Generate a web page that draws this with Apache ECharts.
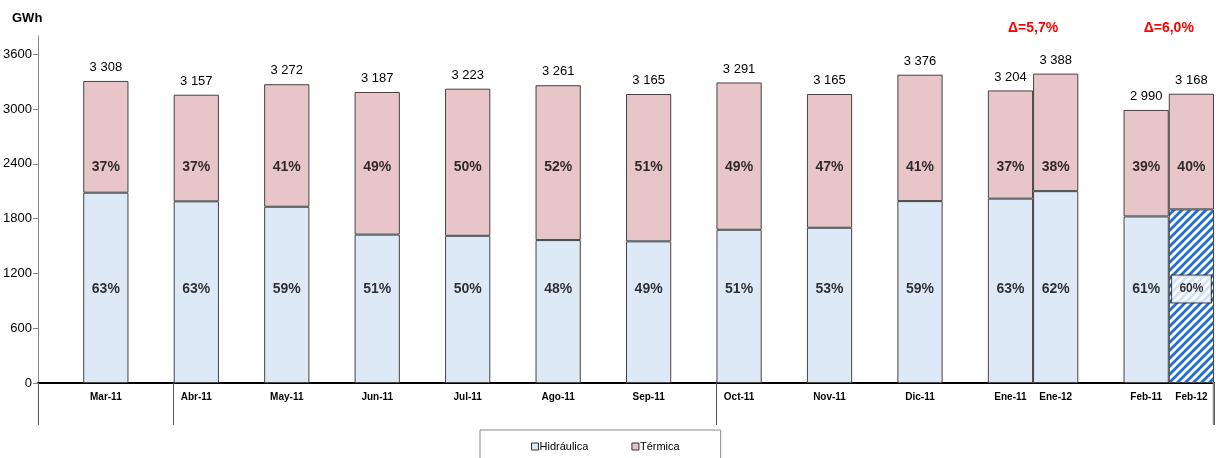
<!DOCTYPE html>
<html>
<head>
<meta charset="utf-8">
<script src="https://cdn.jsdelivr.net/npm/echarts@6/dist/echarts.min.js"></script>
<style>
  html, body { margin: 0; padding: 0; background: #fff; }
  #chart { width: 1216px; height: 458px; }
</style>
</head>
<body>
<div id="chart"></div>
<script>
// ---- data ----
const categories = ['', 'Mar-11', '', 'Abr-11', '', 'May-11', '', 'Jun-11', '', 'Jul-11', '', 'Ago-11', '', 'Sep-11', '', 'Oct-11', '', 'Nov-11', '', 'Dic-11', '', 'Ene-11', 'Ene-12', '', 'Feb-11', 'Feb-12'];
const months = ['Mar-11', 'Abr-11', 'May-11', 'Jun-11', 'Jul-11', 'Ago-11', 'Sep-11', 'Oct-11', 'Nov-11', 'Dic-11', 'Ene-11', 'Ene-12', 'Feb-11', 'Feb-12'];
const totals = [3308, 3157, 3272, 3187, 3223, 3261, 3165, 3291, 3165, 3376, 3204, 3388, 2990, 3168];
const hydro = [2084, 1989, 1930, 1625, 1612, 1565, 1551, 1678, 1700, 1992, 2019, 2101, 1824, 1901];
const thermal = [1224, 1168, 1342, 1562, 1611, 1696, 1614, 1613, 1465, 1384, 1185, 1287, 1166, 1267];
const hydroPct = ['63%', '63%', '59%', '51%', '50%', '48%', '49%', '51%', '53%', '59%', '63%', '62%', '61%', '60%'];
const thermalPct = ['37%', '37%', '41%', '49%', '50%', '52%', '51%', '49%', '47%', '41%', '37%', '38%', '39%', '40%'];
const yTicks = [0, 600, 1200, 1800, 2400, 3000, 3600];
const dividerCategories = ['', 'Abr-11', 'Oct-11'];   // group dividers below the axis (first '' = start)
const deltaPairs = [['Ene-11', 'Ene-12'], ['Feb-11', 'Feb-12']];
const deltaTexts = ['Δ=5,7%', 'Δ=6,0%'];
const projectedMonth = 'Feb-12';
const seriesNames = ['Hidráulica', 'Térmica'];

// ---- styling ----
const FONT = '"Liberation Sans", Arial, sans-serif';
const HYDRO = '#dde9f6';
const THERM = '#e7c5c8';
const EDGE = '#444444';

function stripePattern() {
  const c = document.createElement('canvas');
  c.width = 8; c.height = 8;
  const g = c.getContext('2d');
  g.fillStyle = '#ffffff';
  g.fillRect(0, 0, 8, 8);
  g.strokeStyle = '#1f6fd3';
  g.lineWidth = 2.8;
  g.beginPath();
  g.moveTo(-2, 10); g.lineTo(10, -2);
  g.moveTo(-6, 6); g.lineTo(6, -6);
  g.moveTo(2, 14); g.lineTo(14, 2);
  g.stroke();
  return { image: c, repeat: 'repeat' };
}

const fmt = n => String(n).replace(/\B(?=(\d{3})+(?!\d))/g, ' ');
const idx = m => categories.indexOf(m);
const dividerIdx = dividerCategories.map(idx);

const chart = echarts.init(document.getElementById('chart'), null, { renderer: 'canvas' });

const HYDRO_LABEL_Y = 1030;
const THERM_LABEL_Y = 2360;
const TICK_LEN = 42;

const option = {
  animation: false,
  backgroundColor: '#fff',
  title: {
    text: 'GWh', left: 12, top: 12, padding: 0,
    textStyle: { fontFamily: FONT, fontWeight: 'bold', fontSize: 13, color: '#000' }
  },
  grid: { left: 38, right: 2, top: 36, bottom: 75, outerBoundsMode: 'none', containLabel: false },
  legend: {
    data: seriesNames,
    left: 480, top: 430,
    padding: [11, 41, 14, 51],
    borderColor: '#8a8a8a', borderWidth: 1,
    itemWidth: 7, itemHeight: 7, itemGap: 43,
    icon: 'rect',
    itemStyle: { borderColor: '#333', borderWidth: 1 },
    textStyle: { fontFamily: FONT, fontSize: 11, color: '#000', padding: [0, 0, 0, -4] }
  },
  xAxis: {
    type: 'category',
    data: categories,
    boundaryGap: true,
    axisLine: { lineStyle: { color: '#000', width: 2 } },
    axisTick: {
      show: true,
      interval: (i) => dividerIdx.indexOf(i) >= 0,
      length: TICK_LEN,
      lineStyle: { color: '#555', width: 1 }
    },
    axisLabel: {
      interval: 0, margin: 9,
      fontFamily: FONT, fontWeight: 'bold', fontSize: 10, color: '#000'
    },
    splitLine: { show: false }
  },
  yAxis: {
    type: 'value',
    min: 0, max: 3800, interval: 600,
    axisLine: { show: true, lineStyle: { color: '#888', width: 1 } },
    axisTick: { show: true, length: 5, lineStyle: { color: '#888' }, customValues: yTicks },
    axisLabel: { customValues: yTicks, margin: 6, fontFamily: FONT, fontSize: 13, color: '#000', formatter: v => String(v) },
    splitLine: { show: false }
  },
  series: [
    {
      name: seriesNames[0],
      type: 'bar', stack: 'total',
      barWidth: '100%', barCategoryGap: '0%',
      itemStyle: { color: HYDRO, borderColor: EDGE, borderWidth: 1 },
      data: months.map((m, i) => {
        const d = { value: [idx(m), hydro[i]] };
        if (m === projectedMonth) d.itemStyle = { color: stripePattern(), borderColor: EDGE, borderWidth: 1 };
        return d;
      })
    },
    {
      name: seriesNames[1],
      type: 'bar', stack: 'total',
      barWidth: '100%', barCategoryGap: '0%',
      itemStyle: { color: THERM, borderColor: EDGE, borderWidth: 1 },
      label: {
        show: true, position: 'top', distance: 7,
        fontFamily: FONT, fontSize: 13, color: '#000',
        formatter: p => fmt(totals[p.dataIndex])
      },
      data: months.map((m, i) => ({ value: [idx(m), thermal[i]] }))
    },
    {
      name: 'hydroPctLabels',
      type: 'scatter', symbolSize: 0, silent: true, z: 5,
      label: {
        show: true, position: 'inside',
        fontFamily: FONT, fontWeight: 'bold', fontSize: 14, color: '#000',
        formatter: p => hydroPct[p.dataIndex]
      },
      data: months.map((m, i) => {
        const d = { value: [idx(m), HYDRO_LABEL_Y] };
        if (m === projectedMonth) {
          d.label = {
            fontSize: 12, backgroundColor: '#fff', borderColor: '#222', borderWidth: 1,
            padding: [8, 0, 7, 0], width: 39, align: 'center'
          };
        }
        return d;
      })
    },
    {
      name: 'thermalPctLabels',
      type: 'scatter', symbolSize: 0, silent: true, z: 5,
      label: {
        show: true, position: 'inside',
        fontFamily: FONT, fontWeight: 'bold', fontSize: 14, color: '#000',
        formatter: p => thermalPct[p.dataIndex]
      },
      data: months.map((m, i) => ({ value: [idx(m), THERM_LABEL_Y] }))
    }
  ]
};

chart.setOption(option);

// Δ annotations centred between the two bars of each pair, plus closing divider at the axis end
const DELTA_Y = 3885;
const graphics = deltaPairs.map((pair, k) => {
  const a = chart.convertToPixel({ gridIndex: 0 }, [idx(pair[0]), DELTA_Y]);
  const b = chart.convertToPixel({ gridIndex: 0 }, [idx(pair[1]), DELTA_Y]);
  return {
    type: 'text',
    x: (a[0] + b[0]) / 2, y: a[1],
    style: {
      text: deltaTexts[k], fill: '#ff0000',
      font: 'bold 14px ' + FONT,
      align: 'center', verticalAlign: 'middle'
    }
  };
});
const lastI = categories.length - 1;
const pLast = chart.convertToPixel({ gridIndex: 0 }, [lastI, 0]);
const pPrev = chart.convertToPixel({ gridIndex: 0 }, [lastI - 1, 0]);
const endX = Math.round(pLast[0] + (pLast[0] - pPrev[0]) / 2) - 0.5;
graphics.push({
  type: 'line', silent: true, z: 10,
  shape: { x1: endX, y1: pLast[1] - 1, x2: endX, y2: pLast[1] + TICK_LEN },
  style: { stroke: '#888', lineWidth: 1.5 }
});
chart.setOption({ graphic: graphics });
</script>
</body>
</html>
